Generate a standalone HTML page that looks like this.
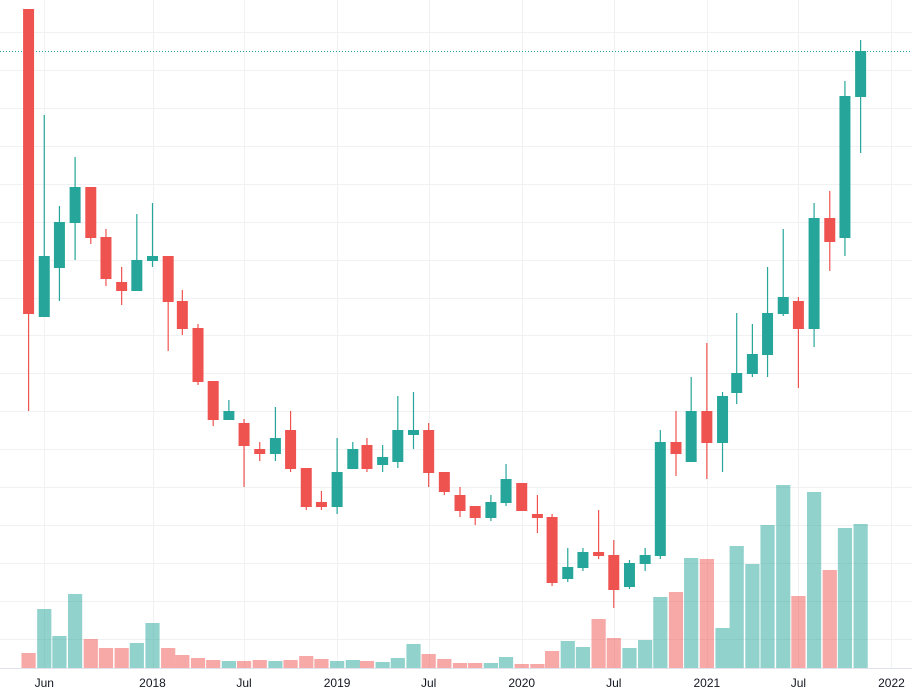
<!DOCTYPE html>
<html><head><meta charset="utf-8"><style>
html,body{margin:0;padding:0;background:#fff;}
svg{display:block;font-family:"Liberation Sans",sans-serif;}
</style></head><body>
<svg id="chart" width="912" height="696" viewBox="0 0 912 696">
<g id="grid"></g>
<g id="volumes"></g>
<g id="candles"></g>
<g id="axis"></g>
</svg>
<script>
// Monthly data, May 2017 .. Nov 2021 (price units: px above baseline)
const months = ["2017-05","2017-06","2017-07","2017-08","2017-09","2017-10","2017-11","2017-12",
"2018-01","2018-02","2018-03","2018-04","2018-05","2018-06","2018-07","2018-08","2018-09","2018-10","2018-11","2018-12",
"2019-01","2019-02","2019-03","2019-04","2019-05","2019-06","2019-07","2019-08","2019-09","2019-10","2019-11","2019-12",
"2020-01","2020-02","2020-03","2020-04","2020-05","2020-06","2020-07","2020-08","2020-09","2020-10","2020-11","2020-12",
"2021-01","2021-02","2021-03","2021-04","2021-05","2021-06","2021-07","2021-08","2021-09","2021-10","2021-11"];
const openY  = [9,317,268,223,187,237,282,291,261,256,301,328,381,420,423,449,454,430,468,502,507,469,445,465,462,435,430,472,495,506,518,503,483,514,517,579,568,552,555,587,564,556,442,462,411,443,393,374,355,314,301,329,218,238,97];
const highY  = [9,115,206,157,187,229,267,214,203,256,290,324,381,400,419,442,407,411,468,491,438,442,438,445,396,392,423,472,487,506,495,464,483,495,514,548,548,510,540,560,548,430,411,377,343,392,313,324,267,229,297,203,191,81,40];
const lowY   = [411,317,301,260,244,286,305,291,267,351,335,385,426,420,487,461,461,472,510,510,514,469,472,472,468,449,487,495,517,525,521,506,511,533,586,582,571,559,608,589,571,559,476,462,479,472,404,377,377,316,388,347,271,256,153];
const closeY = [314,256,222,187,238,279,291,260,256,302,329,382,420,411,446,454,438,469,507,507,472,449,469,457,430,430,473,492,511,518,502,479,511,518,583,567,552,556,590,563,555,442,454,411,443,396,373,354,313,297,329,218,242,96,51];
const volTop = [653,609,636,594,639,648,648,643,623,648,655,658,660,661,661,660,661,660,656,659,661,660,661,662,658,644,654,659,663,663,663,657,664,664,651,641,647,619,638,648,640,597,592,558,559,628,546,564,525,485,596,492,570,528,524];
const tickDates = ["2017-06","2018-01","2018-07","2019-01","2019-07","2020-01","2020-07","2021-01","2021-07","2022-01"];
const tickLabels = ["Jun","2018","Jul","2019","Jul","2020","Jul","2021","Jul","2022"];

const BASE = 668;
const toPrice = y => BASE - y;
const opens = openY.map(toPrice), highs = highY.map(toPrice), lows = lowY.map(toPrice), closes = closeY.map(toPrice), vols = volTop.map(toPrice);

const NS = "http://www.w3.org/2000/svg";
const ref = Date.UTC(2018,0,1);
function xScale(m){const [y,mo]=m.split("-").map(Number);return 152.5+(Date.UTC(y,mo-1,1)-ref)/86400000*0.5058;}
function yScale(p){return BASE - p;}
function vScale(v){return BASE - v;}
function mk(tag,attrs,parent){const e=document.createElementNS(NS,tag);for(const k in attrs)e.setAttribute(k,attrs[k]);parent.appendChild(e);return e;}

const grid=document.getElementById('grid');
for(let y=32;y<=639;y+=37.93){
  const l=mk('line',{x1:0,x2:912,y1:Math.round(y)+0.5,y2:Math.round(y)+0.5,stroke:'#f0f1f3','stroke-width':1},grid);
  
  
}
tickDates.forEach(d=>{
  const x=Math.round(xScale(d))+0.5;
  const l=mk('line',{x1:x,x2:x,y1:0,y2:BASE,stroke:'#f0f1f3','stroke-width':1},grid);
  
  
});
const dl=mk('line',{x1:0,x2:912,y1:51.5,y2:51.5,stroke:'#26a69a','stroke-width':1,'stroke-dasharray':'1 2'},grid);



const vg=document.getElementById('volumes');
months.forEach((m,i)=>{
  const x=xScale(m), up=closes[i]>=opens[i];
  const top=vScale(vols[i]);
  const r=mk('rect',{x:x-7.1,y:top,width:14.2,height:BASE-top,fill:up?'rgba(38,166,154,0.5)':'rgba(239,83,80,0.5)'},vg);
  
  
});

const cg=document.getElementById('candles');
months.forEach((m,i)=>{
  const x=xScale(m), up=closes[i]>=opens[i], col=up?'#26a69a':'#ef5350';
  const g=mk('g',{},cg);
  
  
  mk('line',{x1:x,x2:x,y1:yScale(highs[i]),y2:yScale(lows[i]),stroke:col,'stroke-width':1.2},g);
  const t=Math.min(yScale(opens[i]),yScale(closes[i])), b=Math.max(yScale(opens[i]),yScale(closes[i]));
  mk('rect',{x:x-5.5,y:t,width:11,height:Math.max(1,b-t),fill:col},g);
});

const ax=document.getElementById('axis');
const al=mk('line',{x1:0,x2:912,y1:BASE+0.5,y2:BASE+0.5,stroke:'#e0e3eb','stroke-width':1},ax);


tickDates.forEach((d,i)=>{
  const t=mk('text',{x:xScale(d),y:687,'text-anchor':'middle','font-size':12,fill:'#131722'},ax);
  t.textContent=tickLabels[i];
  
  
});
</script>
</body></html>
